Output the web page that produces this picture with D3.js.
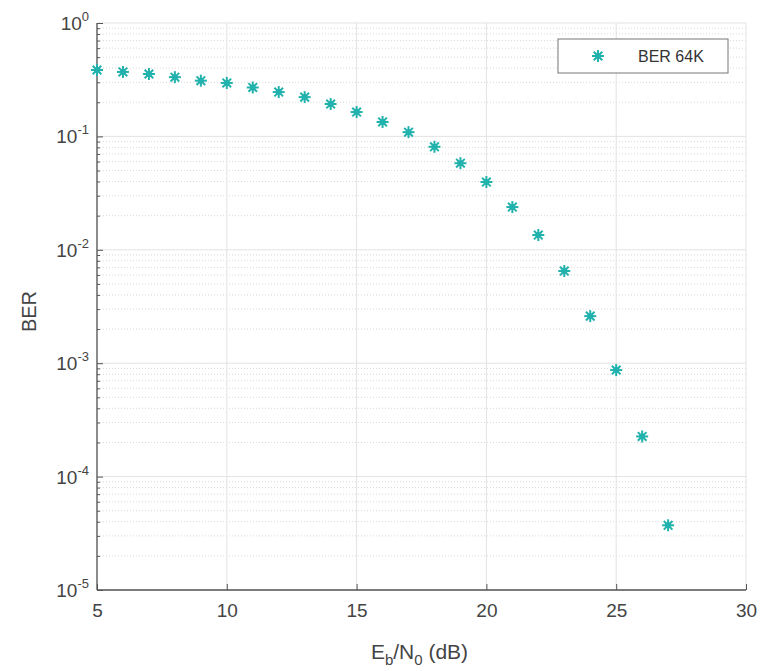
<!DOCTYPE html>
<html><head><meta charset="utf-8">
<script src="https://cdn.jsdelivr.net/npm/d3@7"></script>
<style>body{margin:0;background:#fff}svg{display:block}text{font-family:"Liberation Sans",Arial,sans-serif}</style>
</head><body>
<svg id="c" width="762" height="671"></svg>
<script>
const ebn0 = [5,6,7,8,9,10,11,12,13,14,15,16,17,18,19,20,21,22,23,24,25,26,27];
const ber = [0.385,0.37,0.355,0.333,0.31,0.296,0.27,0.246,0.222,0.193,0.164,0.134,0.109,0.081,0.058,0.0396,0.0238,0.0135,0.0065,0.0026,0.00087,0.000226,0.0000372];
const xTicks = [5,10,15,20,25,30];
const yExps = [0,-1,-2,-3,-4,-5];
const seriesName = "BER 64K";

const svg = d3.select("#c");
const L = 97, R = 746, T = 23, B = 590;
const x = d3.scaleLinear().domain([5,30]).range([L,R]);
const y = d3.scaleLog().domain([1e-5,1]).range([B,T]);
const col = "#22b2ad";
const g = svg.append("g");

// minor horizontal grid
const minors = [];
for (let e=-5;e<0;e++) for (let m=2;m<=9;m++) minors.push(m*Math.pow(10,e));
g.selectAll(".hmin").data(minors).enter().append("line")
 .attr("x1",L).attr("x2",R).attr("y1",d=>y(d)).attr("y2",d=>y(d))
 .attr("stroke","#d8d8d8").attr("stroke-width",1).attr("stroke-dasharray","1,2");
// major grid
g.selectAll(".hmaj").data(yExps.map(e=>Math.pow(10,e))).enter().append("line")
 .attr("x1",L).attr("x2",R).attr("y1",d=>y(d)).attr("y2",d=>y(d))
 .attr("stroke","#e3e3e3").attr("stroke-width",1);
g.selectAll(".vmaj").data(xTicks).enter().append("line")
 .attr("x1",d=>x(d)).attr("x2",d=>x(d)).attr("y1",T).attr("y2",B)
 .attr("stroke","#e3e3e3").attr("stroke-width",1);

// axes
const xAxis = d3.axisBottom(x).tickValues(xTicks).tickSize(-6).tickPadding(14).tickFormat(d3.format("d"));
const gx = svg.append("g").attr("transform",`translate(0,${B})`).call(xAxis);
gx.select(".domain").attr("stroke","#555").attr("stroke-width",1.3).attr("d",`M${L},0H${R}`);
gx.selectAll(".tick line").attr("stroke","#555");
gx.selectAll("text").attr("font-size",19).attr("fill","#444");

const yAxis = d3.axisLeft(y).tickValues([...yExps.map(e=>Math.pow(10,e)),...minors]).tickSize(-6).tickFormat(()=> "");
const gy = svg.append("g").attr("transform",`translate(${L},0)`).call(yAxis);
gy.select(".domain").attr("stroke","#555").attr("stroke-width",1.3).attr("d",`M0,${B}V${T}`);
gy.selectAll(".tick line").attr("stroke","#555").attr("x2",d=>minors.includes(d)?3:6);

// y tick labels 10^e
const yl = svg.append("g");
yExps.forEach(e=>{
  const t = yl.append("text").attr("x",L-8).attr("y",y(Math.pow(10,e))+7).attr("text-anchor","end").attr("font-size",19).attr("fill","#444");
  t.append("tspan").text("10");
  t.append("tspan").attr("font-size",13).attr("dy",-9).text(String(e));
});

// axis labels
svg.append("text").attr("transform",`translate(36,${(T+B)/2+5}) rotate(-90)`).attr("text-anchor","middle")
 .attr("font-size",20).attr("fill","#444").text("BER");
const xl = svg.append("text").attr("x",(L+R)/2-2).attr("y",659).attr("text-anchor","middle").attr("font-size",21).attr("fill","#444");
xl.append("tspan").text("E");
xl.append("tspan").attr("font-size",15).attr("dy",6).text("b");
xl.append("tspan").attr("dy",-6).text("/N");
xl.append("tspan").attr("font-size",15).attr("dy",6).text("0");
xl.append("tspan").attr("dy",-6).text(" (dB)");

// markers
function star(sel, r){
  const a = r*0.72;
  sel.append("line").attr("x1",-r).attr("x2",r).attr("y1",0).attr("y2",0);
  sel.append("line").attr("x1",0).attr("x2",0).attr("y1",-r).attr("y2",r);
  sel.append("line").attr("x1",-a).attr("x2",a).attr("y1",-a).attr("y2",a);
  sel.append("line").attr("x1",-a).attr("x2",a).attr("y1",a).attr("y2",-a);
  sel.append("circle").attr("r",r*0.5).attr("fill",col).attr("stroke","none");
}
const pts = svg.append("g").selectAll("g").data(ebn0.map((v,i)=>[v,ber[i]])).enter().append("g")
 .attr("transform",d=>`translate(${x(d[0])},${y(d[1])})`).attr("stroke",col).attr("stroke-width",2);
pts.each(function(){ star(d3.select(this),6); });

// legend
const lg = svg.append("g");
lg.append("rect").attr("x",558).attr("y",39).attr("width",170).attr("height",34).attr("fill","#fff").attr("stroke","#777").attr("stroke-width",1);
const lm = lg.append("g").attr("transform","translate(598,56)").attr("stroke",col).attr("stroke-width",2);
star(lm,6);
lg.append("text").attr("x",638).attr("y",62).attr("font-size",16).attr("fill","#333").text(seriesName);
</script>
</body></html>
